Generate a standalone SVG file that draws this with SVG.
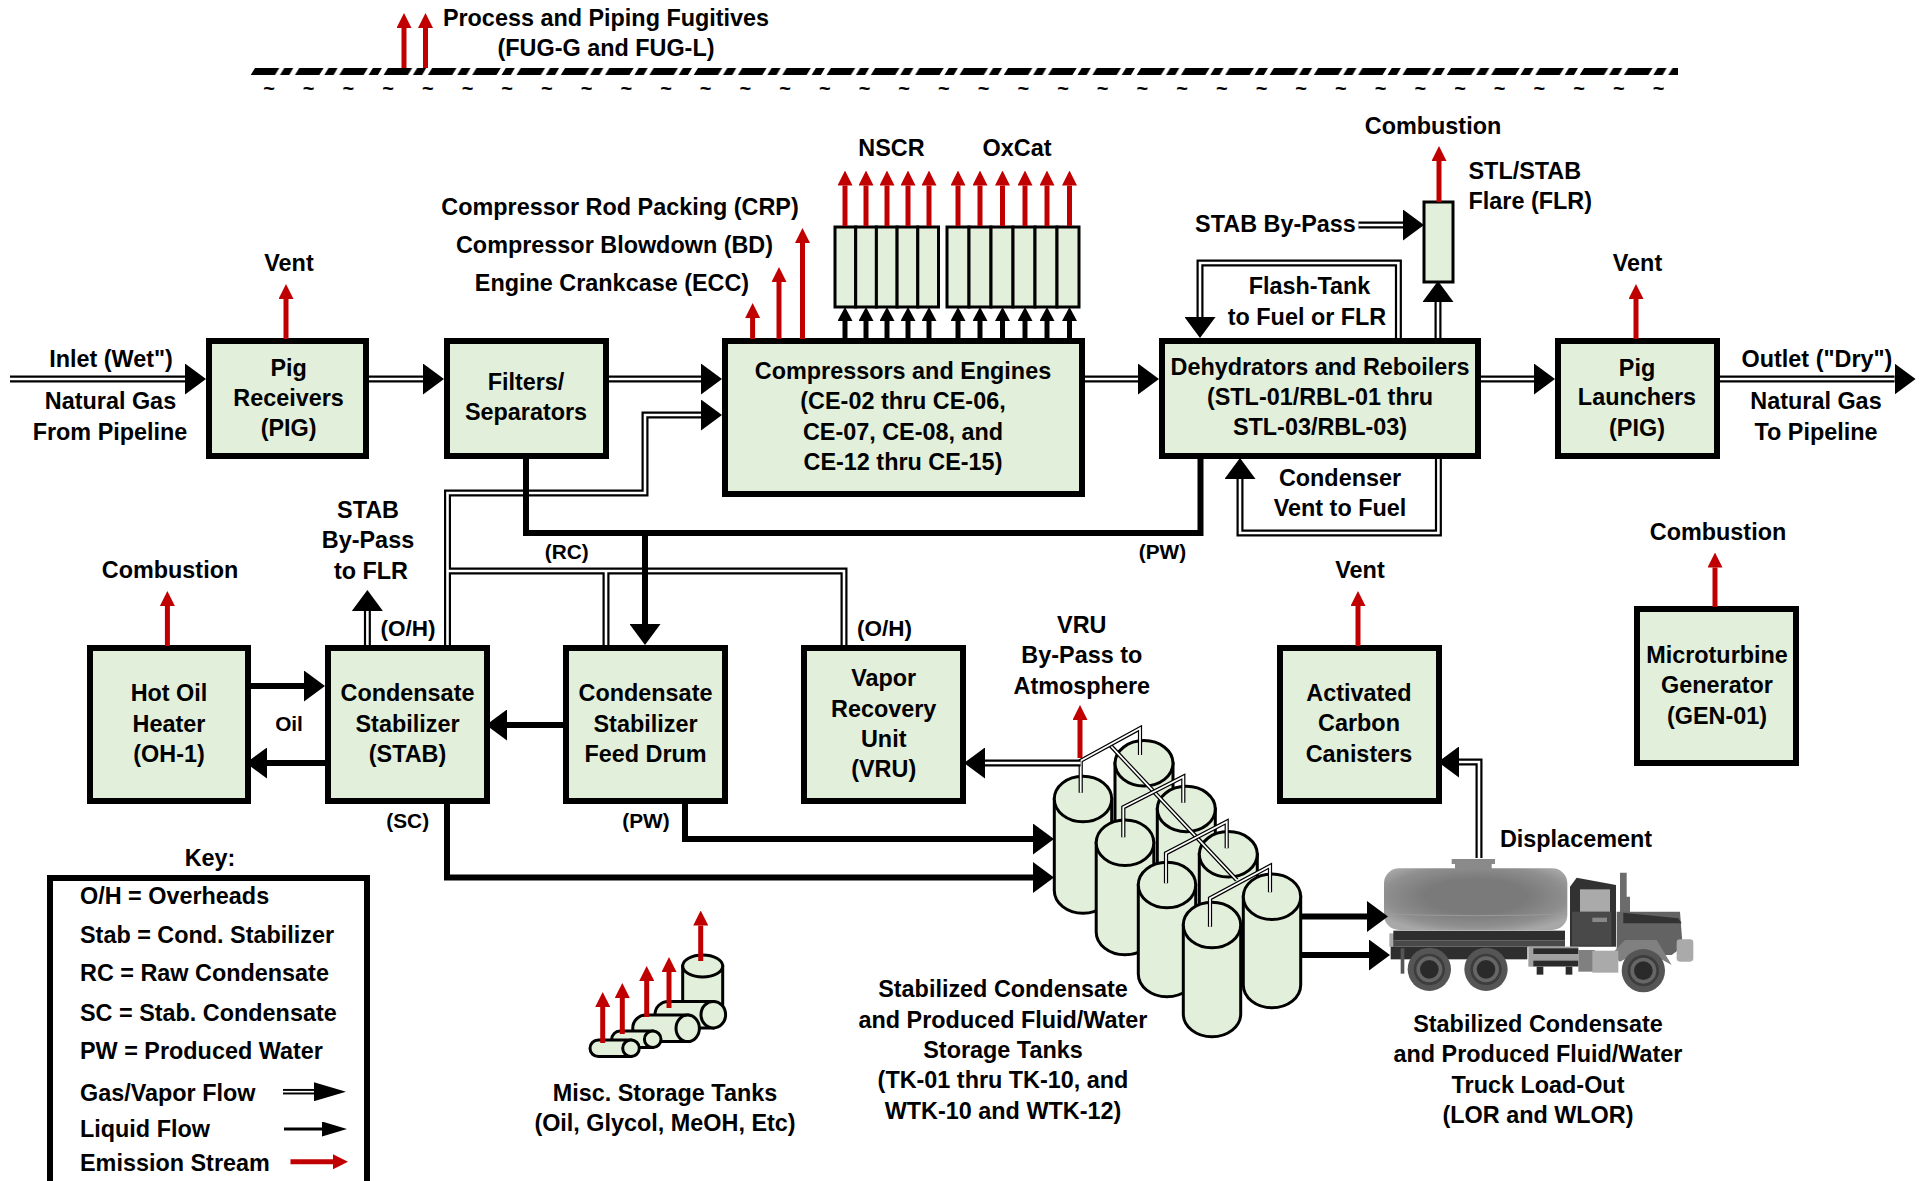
<svg xmlns="http://www.w3.org/2000/svg" width="1929" height="1181" viewBox="0 0 1929 1181">
<style>
text{font-family:"Liberation Sans",Arial,sans-serif;font-weight:700;font-size:23.4px;fill:#000;text-anchor:middle}
.s{font-size:20.8px}
.l{text-anchor:start}
.box{fill:#E2EFDA;stroke:#000;stroke-width:6}
.cell{fill:#E2EFDA;stroke:#000;stroke-width:3}
.tank path,.tank ellipse{fill:#E2EFDA;stroke:#000;stroke-width:3}
.gas{fill:none;stroke:#000;stroke-width:7}
.gasw{fill:none;stroke:#fff;stroke-width:2.6}
.pipe{fill:none;stroke:#000;stroke-width:4.2}
.pipew{fill:none;stroke:#fff;stroke-width:1.8}
.liq{fill:none;stroke:#000;stroke-width:6}
.thin{fill:none;stroke:#000;stroke-width:5;marker-end:url(#hs)}
.red{fill:none;stroke:#C00000;stroke-width:5;marker-end:url(#hr)}
.big{marker-end:url(#hb)}
</style>
<defs>
<marker id="hb" markerUnits="userSpaceOnUse" viewBox="0 0 21 31" markerWidth="21" markerHeight="31" refX="0" refY="15.5" orient="auto"><path d="M0 0L21 15.5L0 31Z" fill="#000"/></marker>
<marker id="hs" markerUnits="userSpaceOnUse" viewBox="0 0 14 15" markerWidth="14" markerHeight="15" refX="0" refY="7.5" orient="auto"><path d="M0 0L14 7.5L0 15Z" fill="#000"/></marker>
<marker id="hr" markerUnits="userSpaceOnUse" viewBox="0 0 15 15" markerWidth="15" markerHeight="15" refX="0" refY="7.5" orient="auto"><path d="M0 0L15 7.5L0 15Z" fill="#C00000"/></marker>
<marker id="kg" markerUnits="userSpaceOnUse" viewBox="0 0 32 19" markerWidth="32" markerHeight="19" refX="0" refY="9.5" orient="auto"><path d="M0 0L32 9.5L0 19Z" fill="#000"/></marker>
<marker id="kl" markerUnits="userSpaceOnUse" viewBox="0 0 25 15" markerWidth="25" markerHeight="15" refX="0" refY="7.5" orient="auto"><path d="M0 0L25 7.5L0 15Z" fill="#000"/></marker>
<pattern id="dash" patternUnits="userSpaceOnUse" x="250" y="68" width="44.3" height="7"><path d="M5 0H29.3L25 7H.7ZM34.3 0H43.3L39.3 7H30Z" fill="#000"/></pattern>
<radialGradient id="tg" cx=".5" cy=".45" r=".62"><stop offset=".45" stop-color="#7a7a7a"/><stop offset=".8" stop-color="#8f8f8f"/><stop offset="1" stop-color="#a8a8a8"/></radialGradient>
<filter id="soft" x="-5%" y="-5%" width="110%" height="110%"><feGaussianBlur stdDeviation=".9"/></filter>
</defs>

<g id="fugitives">
<rect x="250" y="68" width="1428" height="7" fill="url(#dash)"/>
<text x="269 308.7 348.4 388.1 427.8 467.5 507.2 546.9 586.6 626.3 666 705.7 745.4 785.1 824.8 864.5 904.2 943.9 983.6 1023.3 1063 1102.7 1142.4 1182.1 1221.8 1261.5 1301.2 1340.9 1380.6 1420.3 1460 1499.7 1539.4 1579.1 1618.8 1658.5" y="95" style="font-size:20px">~~~~~~~~~~~~~~~~~~~~~~~~~~~~~~~~~~~~</text>
<text x="606" y="25.5">Process and Piping Fugitives</text>
<text x="606" y="55.5">(FUG-G and FUG-L)</text>
</g>

<g id="pig-receivers"><rect class="box" x="209" y="341" width="157" height="115"/><text x="288.6" y="376">Pig</text><text x="288.6" y="405.5">Receivers</text><text x="288.6" y="436">(PIG)</text></g>
<g id="filters"><rect class="box" x="447" y="341" width="159" height="115"/><text x="526" y="390">Filters/</text><text x="526" y="420">Separators</text></g>
<g id="compressors"><rect class="box" x="725" y="341" width="357" height="153"/><text x="903" y="379">Compressors and Engines</text><text x="903" y="409">(CE-02 thru CE-06,</text><text x="903" y="439.5">CE-07, CE-08, and</text><text x="903" y="470">CE-12 thru CE-15)</text></g>
<g id="dehydrators"><rect class="box" x="1162" y="341" width="316" height="115"/><text x="1320" y="375">Dehydrators and Reboilers</text><text x="1320" y="405">(STL-01/RBL-01 thru</text><text x="1320" y="435">STL-03/RBL-03)</text></g>
<g id="pig-launchers"><rect class="box" x="1558" y="341" width="159" height="115"/><text x="1637" y="375.5">Pig</text><text x="1637" y="405">Launchers</text><text x="1637" y="435.5">(PIG)</text></g>
<g id="microturbine"><rect class="box" x="1637" y="609" width="159" height="154"/><text x="1717" y="662.5">Microturbine</text><text x="1717" y="693">Generator</text><text x="1717" y="723.5">(GEN-01)</text></g>
<g id="carbon"><rect class="box" x="1280" y="648" width="159" height="153"/><text x="1359" y="701">Activated</text><text x="1359" y="731">Carbon</text><text x="1359" y="762">Canisters</text></g>
<g id="hot-oil"><rect class="box" x="90" y="648" width="158" height="153"/><text x="169" y="701">Hot Oil</text><text x="169" y="732">Heater</text><text x="169" y="762">(OH-1)</text></g>
<g id="stabilizer"><rect class="box" x="328" y="648" width="159" height="153"/><text x="407.5" y="701">Condensate</text><text x="407.5" y="732">Stabilizer</text><text x="407.5" y="762">(STAB)</text></g>
<g id="feed-drum"><rect class="box" x="566" y="648" width="159" height="153"/><text x="645.5" y="701">Condensate</text><text x="645.5" y="732">Stabilizer</text><text x="645.5" y="762">Feed Drum</text></g>
<g id="vru"><rect class="box" x="804" y="648" width="159" height="153"/><text x="883.7" y="686">Vapor</text><text x="883.7" y="717">Recovery</text><text x="883.7" y="747">Unit</text><text x="883.7" y="777">(VRU)</text></g>

<g id="nscr"><rect class="cell" x="835" y="227" width="20.7" height="80"/><rect class="cell" x="855.7" y="227" width="20.7" height="80"/><rect class="cell" x="876.4" y="227" width="20.7" height="80"/><rect class="cell" x="897.1" y="227" width="20.7" height="80"/><rect class="cell" x="917.8" y="227" width="20.7" height="80"/><text x="891.5" y="156">NSCR</text></g>
<g id="oxcat"><rect class="cell" x="947" y="227" width="22" height="80"/><rect class="cell" x="969" y="227" width="22" height="80"/><rect class="cell" x="991" y="227" width="22" height="80"/><rect class="cell" x="1013" y="227" width="22" height="80"/><rect class="cell" x="1035" y="227" width="22" height="80"/><rect class="cell" x="1057" y="227" width="22" height="80"/><text x="1017" y="156">OxCat</text></g>
<g id="flare"><rect class="cell" x="1424" y="202" width="29" height="80"/><text class="l" x="1468.5" y="179">STL/STAB</text><text class="l" x="1468.5" y="209">Flare (FLR)</text></g>

<g id="storage-tanks">
<g class="tank"><path d="M1115 763.3V852A29 22.7 0 0 0 1173 852V763.3Z"/><ellipse cx="1144" cy="763.3" rx="29" ry="22.7"/></g>
<g class="tank"><path d="M1157.3 809V898A29 22.7 0 0 0 1215.3 898V809Z"/><ellipse cx="1186.3" cy="809" rx="29" ry="22.7"/></g>
<g class="tank"><path d="M1199.3 854.3V943A29 22.7 0 0 0 1257.3 943V854.3Z"/><ellipse cx="1228.3" cy="854.3" rx="29" ry="22.7"/></g>
<g class="tank"><path d="M1054.3 799V890.5A28.7 22.8 0 0 0 1111.7 890.5V799Z"/><ellipse cx="1083" cy="799" rx="28.7" ry="22.8"/></g>
<g class="tank"><path d="M1096.2 842.7V932A28.8 22.8 0 0 0 1153.8 932V842.7Z"/><ellipse cx="1125" cy="842.7" rx="28.8" ry="22.8"/></g>
<g class="tank"><path d="M1138.3 885V974A28.7 22.8 0 0 0 1195.7 974V885Z"/><ellipse cx="1167" cy="885" rx="28.7" ry="22.8"/></g>
<g class="tank"><path d="M1183.3 925V1014A28.7 22.8 0 0 0 1240.7 1014V925Z"/><ellipse cx="1212" cy="925" rx="28.7" ry="22.8"/></g>
<g class="tank"><path d="M1243.3 896.7V985A28.7 22.8 0 0 0 1300.7 985V896.7Z"/><ellipse cx="1272" cy="896.7" rx="28.7" ry="22.8"/></g>
<path class="pipe" d="M1110 745L1236.7 880"/><path class="pipew" d="M1110 745L1236.7 880"/>
<path class="pipe" d="M1080.7 792.7V760.7L1140 728.3V755M1123.3 837.3V807.3L1183.3 776.7V802.7M1166 883.3V853.3L1226.7 821.7V848.3M1210 926.7V898.3L1270 866V892.3"/>
<path class="pipew" d="M1080.7 792.7V760.7L1140 728.3V755M1123.3 837.3V807.3L1183.3 776.7V802.7M1166 883.3V853.3L1226.7 821.7V848.3M1210 926.7V898.3L1270 866V892.3"/>
<text x="1003" y="997">Stabilized Condensate</text><text x="1003" y="1028">and Produced Fluid/Water</text><text x="1003" y="1058">Storage Tanks</text><text x="1003" y="1088">(TK-01 thru TK-10, and</text><text x="1003" y="1119">WTK-10 and WTK-12)</text>
</g>

<g id="misc-tanks">
<g class="tank"><path d="M682.7 966V1010H722.7V966Z"/><ellipse cx="702.7" cy="966" rx="20" ry="11"/></g>
<g class="tank"><path d="M713.3 1001.4H668.3A13.3 13.3 0 0 0 668.3 1028H713.3Z"/><ellipse cx="713.3" cy="1014.7" rx="12.3" ry="13.3"/></g>
<g class="tank"><path d="M687.7 1015H646A13.3 13.3 0 0 0 646 1041.6H687.7Z"/><ellipse cx="687.7" cy="1028.3" rx="11.7" ry="13.3"/></g>
<g class="tank"><path d="M652.7 1031H620A8.3 8.3 0 0 0 620 1047.6H652.7Z"/><ellipse cx="652.7" cy="1039.3" rx="8.3" ry="8.3"/></g>
<g class="tank"><path d="M631 1040H598.3A8.3 8.3 0 0 0 598.3 1056.6H631Z"/><ellipse cx="631" cy="1048.3" rx="8.3" ry="8.3"/></g>
<text x="665" y="1101">Misc. Storage Tanks</text><text x="665" y="1131">(Oil, Glycol, MeOH, Etc)</text>
</g>

<g id="truck">
<g transform="translate(1360 840) scale(.33333)" filter="url(#soft)">
<path d="M275 57H405V72H395V88H285V72H275Z" fill="#8a8a8a"/>
<rect x="72" y="85" width="550" height="185" rx="45" fill="url(#tg)"/>
<path d="M76 222Q350 232 620 222" fill="none" stroke="#9a9a9a" stroke-width="3"/>
<rect x="88" y="280" width="18" height="40" fill="#aaa"/>
<rect x="100" y="272" width="515" height="30" fill="#2f2f2f"/>
<rect x="100" y="302" width="515" height="18" fill="#484848"/>
<rect x="92" y="320" width="410" height="38" fill="#2f2f2f"/>
<rect x="122" y="325" width="11" height="76" fill="#555"/>
<path d="M630 140L650 113L768 135V320H630Z" fill="#333"/>
<rect x="636" y="215" width="118" height="102" fill="#484848"/>
<rect x="660" y="148" width="90" height="67" fill="#aaa"/>
<rect x="697" y="233" width="44" height="13" fill="#888"/>
<path d="M780 98H800V170H810V220H780Z" fill="#6c6c6c"/>
<path d="M770 215H960L968 320L935 345H770Z" fill="#636363"/>
<path d="M790 218L955 235L965 250H790Z" fill="#333"/>
<rect x="950" y="298" width="50" height="67" rx="10" fill="#aaa"/>
<path d="M752 345L795 300H890L935 375L850 328L780 365Z" fill="#808080"/>
<rect x="505" y="320" width="150" height="60" fill="#a0a0a0"/>
<rect x="520" y="325" width="135" height="17" fill="#2a2a2a"/>
<rect x="520" y="362" width="135" height="17" fill="#2a2a2a"/>
<rect x="530" y="380" width="20" height="24" fill="#2a2a2a"/>
<rect x="617" y="380" width="20" height="24" fill="#2a2a2a"/>
<rect x="655" y="330" width="50" height="65" fill="#808080"/>
<rect x="697" y="332" width="78" height="66" fill="#aaa"/>
<g fill="#555"><circle cx="208" cy="388" r="65"/><circle cx="378" cy="388" r="65"/><circle cx="850" cy="392" r="65"/></g>
<g fill="#3c3c3c"><circle cx="208" cy="388" r="47"/><circle cx="378" cy="388" r="47"/><circle cx="850" cy="392" r="47"/></g>
<g fill="#666"><circle cx="208" cy="388" r="39"/><circle cx="378" cy="388" r="39"/><circle cx="850" cy="392" r="39"/></g>
<g fill="#2c2c2c"><circle cx="208" cy="388" r="28"/><circle cx="378" cy="388" r="28"/><circle cx="850" cy="392" r="28"/></g>
</g>
<text x="1538" y="1032">Stabilized Condensate</text><text x="1538" y="1062">and Produced Fluid/Water</text><text x="1538" y="1093">Truck Load-Out</text><text x="1538" y="1123">(LOR and WLOR)</text>
</g>

<g id="connectors">
<g class="gas">
<path class="big" d="M10 379H185"/><path class="big" d="M369 379H423"/><path class="big" d="M609 379H701"/><path class="big" d="M1085 379H1138"/><path class="big" d="M1481 379H1534"/><path class="big" d="M1720 379H1894.6"/>
<path class="big" d="M447.5 645V493H645V415H701"/><path class="big" d="M367.4 645V611"/>
<path d="M844 645V571H447.5M606 645V571"/>
<path class="big" d="M1358.5 225H1403"/><path class="big" d="M1398.4 338V263H1200V317"/><path class="big" d="M1438 338V302"/><path class="big" d="M1438.4 459V533H1240V479"/>
<path class="big" d="M1080.6 763H985"/><path class="big" d="M1479 858V762H1459"/>
</g>
<g class="gasw">
<path d="M10 379H185M369 379H423M609 379H701M1085 379H1138M1481 379H1534M1720 379H1894.6"/>
<path d="M447.5 645V493H645V415H701M367.4 645V611M844 645V571H447.5M606 645V571"/>
<path d="M1358.5 225H1403M1398.4 338V263H1200V317M1438 338V302M1438.4 459V533H1240V479M1080.6 763H985M1479 858V762H1459"/>
</g>
<g class="liq">
<path d="M526 459V533H1200.5V459"/><path class="big" d="M645 533V624"/><path class="big" d="M251 686H304"/><path class="big" d="M325 763H267"/><path class="big" d="M563 725H507"/>
<path class="big" d="M447 804V877.5H1033"/><path class="big" d="M685 804V839H1033"/><path class="big" d="M1301 916.5H1367"/><path class="big" d="M1301 955H1369"/>
</g>
<g>
<path class="thin" d="M845 338V321"/><path class="thin" d="M866 338V321"/><path class="thin" d="M887 338V321"/><path class="thin" d="M908 338V321"/><path class="thin" d="M929 338V321"/>
<path class="thin" d="M958 338V321"/><path class="thin" d="M980 338V321"/><path class="thin" d="M1002.5 338V321"/><path class="thin" d="M1025 338V321"/><path class="thin" d="M1047 338V321"/><path class="thin" d="M1069.5 338V321"/>
</g>
<g id="emissions">
<path class="red" d="M404 68V28"/><path class="red" d="M425.5 68V28"/>
<path class="red" d="M286 339V299"/><path class="red" d="M752.6 339V318"/><path class="red" d="M779 339V282"/><path class="red" d="M802.5 339V243"/>
<path class="red" d="M845 226V185.5"/><path class="red" d="M866 226V185.5"/><path class="red" d="M887 226V185.5"/><path class="red" d="M908 226V185.5"/><path class="red" d="M929 226V185.5"/>
<path class="red" d="M958 226V185.5"/><path class="red" d="M980 226V185.5"/><path class="red" d="M1002.5 226V185.5"/><path class="red" d="M1025 226V185.5"/><path class="red" d="M1047 226V185.5"/><path class="red" d="M1069.5 226V185.5"/>
<path class="red" d="M1439 202V161"/><path class="red" d="M1636 339V299"/><path class="red" d="M1715 607V567.5"/>
<path class="red" d="M167.4 646V606"/><path class="red" d="M1358 646V606"/><path class="red" d="M1080 758V720"/>
<path class="red" d="M602.7 1043V1007"/><path class="red" d="M622.3 1034V998"/><path class="red" d="M646.7 1017V981"/><path class="red" d="M669 1008V972"/><path class="red" d="M700.7 961V925.5"/>
</g>
</g>

<g id="labels">
<text x="620" y="214.5">Compressor Rod Packing (CRP)</text>
<text x="614.5" y="253">Compressor Blowdown (BD)</text>
<text x="612" y="291">Engine Crankcase (ECC)</text>
<text x="289" y="271">Vent</text>
<text x="111" y="367">Inlet (Wet")</text>
<text x="110.5" y="409">Natural Gas</text>
<text x="110" y="439.5">From Pipeline</text>
<text x="1340" y="486">Condenser</text>
<text x="1340" y="515.5">Vent to Fuel</text>
<text x="1309.5" y="294">Flash-Tank</text>
<text x="1307" y="325">to Fuel or FLR</text>
<text x="1433" y="133.5">Combustion</text>
<text x="1275.5" y="231.5">STAB By-Pass</text>
<text x="1637.5" y="271">Vent</text>
<text x="1817" y="367">Outlet ("Dry")</text>
<text x="1816" y="409">Natural Gas</text>
<text x="1816" y="439.5">To Pipeline</text>
<text x="1718" y="540">Combustion</text>
<text class="s" x="1162.5" y="559">(PW)</text>
<text class="s" x="566.8" y="558.5">(RC)</text>
<text x="368" y="517.5">STAB</text>
<text x="368" y="548">By-Pass</text>
<text x="371" y="578.5">to FLR</text>
<text x="170" y="577.7">Combustion</text>
<text x="408" y="636" style="font-size:22.5px">(O/H)</text>
<text x="884.6" y="636" style="font-size:22.5px">(O/H)</text>
<text class="s" x="289" y="731">Oil</text>
<text class="s" x="407.7" y="827.5">(SC)</text>
<text class="s" x="646" y="827.5">(PW)</text>
<text x="1081.8" y="632.5">VRU</text>
<text x="1081.8" y="662.5">By-Pass to</text>
<text x="1081.8" y="693.5">Atmosphere</text>
<text x="1360" y="577.7">Vent</text>
<text x="1576" y="847">Displacement</text>
</g>

<g id="key">
<text x="210" y="866">Key:</text>
<rect x="50" y="878" width="317" height="320" fill="none" stroke="#000" stroke-width="6"/>
<text class="l" x="80" y="904">O/H = Overheads</text>
<text class="l" x="80" y="943">Stab = Cond. Stabilizer</text>
<text class="l" x="80" y="981">RC = Raw Condensate</text>
<text class="l" x="80" y="1021">SC = Stab. Condensate</text>
<text class="l" x="80" y="1058.5">PW = Produced Water</text>
<text class="l" x="80" y="1100.5">Gas/Vapor Flow</text>
<text class="l" x="80" y="1136.5">Liquid Flow</text>
<text class="l" x="80" y="1171">Emission Stream</text>
<path d="M283 1091.7H314" fill="none" stroke="#000" stroke-width="5.5" marker-end="url(#kg)"/>
<path d="M283 1091.7H314" fill="none" stroke="#fff" stroke-width="1.6"/>
<path d="M284 1129H322" fill="none" stroke="#000" stroke-width="3" marker-end="url(#kl)"/>
<path class="red" d="M290.5 1161.8H333"/>
</g>
</svg>
